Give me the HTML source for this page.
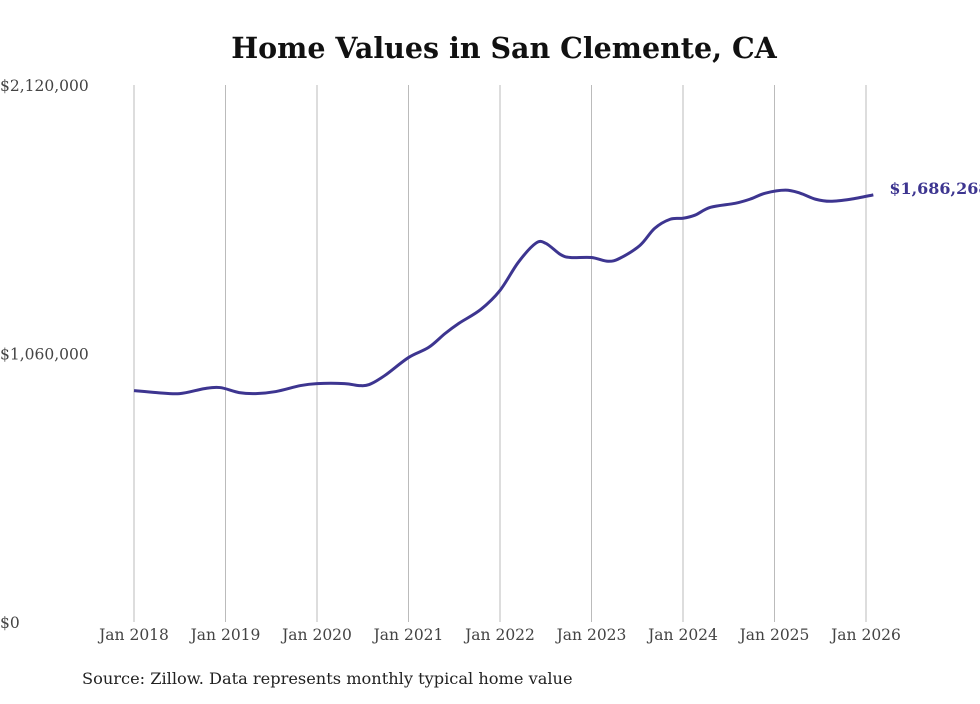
<!DOCTYPE html>
<html><head><meta charset="utf-8"><style>
body{margin:0;background:#fff;width:980px;height:699px;overflow:hidden}
svg text{font-family:"DejaVu Serif","Liberation Serif",serif}
</style></head><body>
<svg id="chart" width="980" height="699" xmlns="http://www.w3.org/2000/svg">
<text x="504" y="58" text-anchor="middle" font-size="28.5" font-weight="bold" fill="#111">Home Values in San Clemente, CA</text>
<g id="grid"></g><g id="ylab"></g><g id="xlab"></g>
<path id="line" fill="none" stroke="#3d3590" stroke-width="3" stroke-linejoin="round"/>
<text id="endlab" font-size="16" font-weight="bold" fill="#3d3590"></text>
<text x="82" y="684" font-size="16.2" fill="#222">Source: Zillow. Data represents monthly typical home value</text>
</svg>
<script>
const xYears=[2018,2019,2020,2021,2022,2023,2024,2025,2026];
const xTickLabels=["Jan 2018","Jan 2019","Jan 2020","Jan 2021","Jan 2022","Jan 2023","Jan 2024","Jan 2025","Jan 2026"];
const yTicks=[0,1060000,2120000];
const yTickLabels=["$0","$1,060,000","$2,120,000"];
const dates=[2018,2018.25,2018.5,2018.77,2018.94,2019.15,2019.33,2019.55,2019.82,2020,2020.3,2020.46,2020.57,2020.74,2021,2021.22,2021.4,2021.55,2021.79,2022,2022.2,2022.39,2022.5,2022.66,2022.77,2023,2023.18,2023.31,2023.53,2023.69,2023.86,2024,2024.13,2024.3,2024.57,2024.73,2024.9,2025.12,2025.28,2025.45,2025.61,2025.83,2026.08];
const values=[913600,905700,901700,921500,925500,905700,901700,909700,933400,941300,941300,933400,937300,972900,1044000,1084000,1139000,1179000,1234000,1309000,1420000,1495000,1495000,1451000,1439000,1439000,1424000,1436000,1487000,1554000,1590000,1594000,1606000,1637000,1653000,1669000,1693000,1705000,1693000,1669000,1661000,1669000,1686268];
const X=d=>134+(d-2018)*(866-134)/8;
const Y=v=>622-v*(622-85)/2120000;
const NS="http://www.w3.org/2000/svg";
const g=document.getElementById('grid'),yl=document.getElementById('ylab'),xl=document.getElementById('xlab');
xYears.forEach((yr,i)=>{
 const l=document.createElementNS(NS,'line');
 
 
 l.setAttribute('x1',X(yr));l.setAttribute('x2',X(yr));l.setAttribute('y1',85);l.setAttribute('y2',622);
 l.setAttribute('stroke','#bbb');l.setAttribute('stroke-width','1');g.appendChild(l);
 const t=document.createElementNS(NS,'text');
 
 
 t.setAttribute('x',X(yr));t.setAttribute('y',640);t.setAttribute('text-anchor','middle');
 t.setAttribute('font-size','15.5');t.setAttribute('fill','#444');t.textContent=xTickLabels[i];xl.appendChild(t);
});
yTicks.forEach((v,i)=>{
 const t=document.createElementNS(NS,'text');
 
 
 t.setAttribute('x',0);t.setAttribute('y',Y(v)+6);
 t.setAttribute('font-size','15.5');t.setAttribute('fill','#444');t.textContent=yTickLabels[i];yl.appendChild(t);
});
let pts=dates.map((d,i)=>[X(d),Y(values[i])]);
let p="M"+pts[0][0]+","+pts[0][1];
for(let i=0;i<pts.length-1;i++){
 const p0=pts[Math.max(0,i-1)],p1=pts[i],p2=pts[i+1],p3=pts[Math.min(pts.length-1,i+2)];
 const c1=[p1[0]+(p2[0]-p0[0])/6,p1[1]+(p2[1]-p0[1])/6],c2=[p2[0]-(p3[0]-p1[0])/6,p2[1]-(p3[1]-p1[1])/6];
 p+=` C${c1[0]},${c1[1]} ${c2[0]},${c2[1]} ${p2[0]},${p2[1]}`;
}
document.getElementById('line').setAttribute('d',p);
const e=document.getElementById('endlab'),last=pts[pts.length-1];
e.setAttribute('x',last[0]+16);e.setAttribute('y',last[1]-1);
e.textContent="$"+values[values.length-1].toLocaleString('en-US');
</script>
</body></html>
